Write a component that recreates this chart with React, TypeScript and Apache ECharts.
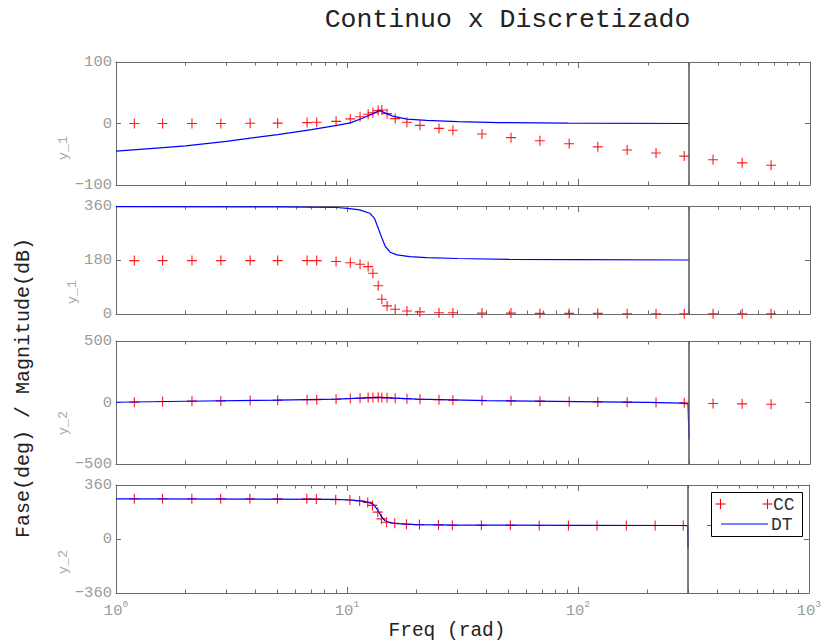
import React, { useEffect, useRef } from 'react';
import * as echarts from 'echarts';

// ---- data ----
const ccFreq = [1.2, 1.59, 2.13, 2.84, 3.8, 5.0, 6.7, 7.37, 8.94, 10.3, 11.35, 12.3, 12.9, 13.6, 14.1, 14.85, 16.1, 18.1, 20.6, 24.9, 28.6, 38.2, 51, 68, 91, 121, 162, 216, 286, 381, 509, 679];
const ccMag1 = [0, 0, 0, 0, 0.3, 0.6, 1.5, 2, 3.5, 7.5, 11, 15, 17.5, 21, 22, 16, 8, 2, -3, -8, -11, -17, -23, -28, -33, -38, -43, -48, -53, -59, -64, -68];
const ccPh1 = [178, 178, 178, 178, 178, 178, 178, 178, 175, 171, 166, 158, 136, 94, 49, 27, 16, 10, 7, 4, 4, 3, 3, 2, 2, 2, 1, 1, 1, 1, 1, 1];
const ccMag2 = [3, 8, 11, 13, 16, 19, 22, 22, 27, 32, 35, 40, 40, 42, 41, 38, 34, 30, 27, 22, 19, 16, 13.5, 11, 8, 5, 3, 0, -3, -8, -11, -14];
const ccPh2 = [268, 268, 268, 268, 268, 268, 268, 267, 262, 260, 253, 244, 224, 179, 134, 112, 105, 98, 96, 94, 92, 91, 91, 90, 90, 90, 90, 90, 90, 90, 90, 90];

const dtFreq1 = [1, 1.5, 2, 3, 5, 7, 9, 10.3, 11.7, 12.9, 13.8, 14.8, 15.7, 18.1, 22, 30, 45, 90, 300];
const dtMag1 = [-45, -40, -36.5, -29, -18, -10, -3, 1, 9, 16, 21, 16, 12, 7, 5, 3, 1.5, 0.5, 0];
const dtFreq2 = [1, 5, 9, 10, 11.3, 12.5, 13.1, 13.6, 14.1, 14.6, 15.3, 16.4, 18.6, 22, 30, 50, 100, 300];
const dtPh1 = [358, 357, 355, 352, 347, 336, 319, 286, 253, 225, 206, 197, 191, 188, 185, 182, 181, 180];
const dtFreq3 = [1, 2, 5, 9, 12, 13.6, 16, 20, 40, 100, 200, 280, 297, 300];
const dtMag2 = [2, 10, 19, 27, 38, 42, 35, 28, 16, 7, 1, -5, -12, -300];
const dtFreq4 = [1, 9, 10.3, 11.5, 12.3, 13, 13.6, 14.1, 14.6, 15.3, 16.5, 20, 30, 100, 290, 299, 300];
const dtPh2 = [268, 264, 260, 254, 246, 232, 192, 150, 122, 110, 103, 96, 93, 91, 90, 88, -60];

const nyquistFreq = 300;
const xMajorTicks = [1, 10, 100, 1000];
const xMinorTicks = [2, 3, 4, 5, 6, 7, 8, 9, 20, 30, 40, 50, 60, 70, 80, 90, 200, 300, 400, 500, 600, 700, 800, 900];
const yRanges = [
  { min: -100, max: 100, interval: 100 },
  { min: 0, max: 360, interval: 180 },
  { min: -500, max: 500, interval: 500 },
  { min: -360, max: 360, interval: 360 },
];
const subplotNames = ['y_1', 'y_1', 'y_2', 'y_2'];
const titleText = 'Continuo x Discretizado';
const xLabelText = 'Freq (rad)';
const yLabelText = 'Fase(deg) / Magnitude(dB)';
const ccName = 'CC';
const dtName = 'DT';

// ---- style ----
const FONT = '"Liberation Mono", "DejaVu Sans Mono", monospace';
const AX = '#6b6b6b';
const TICKLBL = '#9b9b9b';
const RED = '#ff0000';
const BLUE = '#0000ff';
const PLUS = 'path://M5 0 L5 10 M0 5 L10 5';

const gridBoxes = [
  { top: 62, height: 123 },
  { top: 206, height: 108 },
  { top: 341, height: 123 },
  { top: 485, height: 108 },
];
const labelPos = [
  { x: 63, y: 148 },
  { x: 72, y: 292 },
  { x: 63, y: 423 },
  { x: 63, y: 562 },
];

function makeX(gi: number, position: string, ticks: number[], len: number, line: boolean, label: boolean) {
  return {
    type: 'log',
    logBase: 10,
    gridIndex: gi,
    position,
    min: 1,
    max: 1000,
    axisLine: { show: line, onZero: false, lineStyle: { color: AX, width: 1 } },
    axisTick: { show: true, inside: true, length: len, customValues: ticks, lineStyle: { color: AX, width: 1 } },
    axisLabel: {
      show: label,
      customValues: xMajorTicks,
      margin: 6,
      formatter: (v: number) => `{b|10}{s|${Math.round(Math.log10(v))}}`,
      rich: {
        b: { fontSize: 15.5, fontFamily: FONT, color: TICKLBL, lineHeight: 24 },
        s: { fontSize: 9.5, fontFamily: FONT, color: TICKLBL, lineHeight: 9, verticalAlign: 'top' },
      },
    },
    splitLine: { show: false },
    minorTick: { show: false },
  };
}

function makeY(gi: number, position: string, label: boolean) {
  const r = yRanges[gi];
  return {
    type: 'value',
    gridIndex: gi,
    position,
    min: r.min,
    max: r.max,
    interval: r.interval,
    axisLine: { show: true, onZero: false, lineStyle: { color: AX, width: 1 } },
    axisTick: { show: true, inside: true, length: 5, lineStyle: { color: AX, width: 1 } },
    axisLabel: {
      show: label,
      margin: 4,
      color: TICKLBL,
      fontSize: 15.5,
      fontFamily: FONT,
      formatter: (v: number) => String(v).replace('-', '\u2212'),
    },
    splitLine: { show: false },
  };
}

const ccSets = [ccMag1, ccPh1, ccMag2, ccPh2];
const dtSets = [
  [dtFreq1, dtMag1],
  [dtFreq2, dtPh1],
  [dtFreq3, dtMag2],
  [dtFreq4, dtPh2],
];

export default function App() {
  const ref = useRef<HTMLDivElement>(null);
  useEffect(() => {
    if (!ref.current) return;
    const chart = echarts.init(ref.current, null, { renderer: 'svg' });
    const grid = gridBoxes.map((g) => ({ left: 116, right: 14, top: g.top, height: g.height, containLabel: false }));
    const xAxis: any[] = [];
    const yAxis: any[] = [];
    const series: any[] = [];
    for (let i = 0; i < 4; i++) {
      xAxis.push(makeX(i, 'bottom', xMajorTicks, 6, true, i === 3));
      xAxis.push(makeX(i, 'top', xMajorTicks, 6, true, false));
      xAxis.push(makeX(i, 'bottom', xMinorTicks, 3.5, false, false));
      xAxis.push(makeX(i, 'top', xMinorTicks, 3.5, false, false));
      yAxis.push(makeY(i, 'left', true));
      yAxis.push(makeY(i, 'right', false));
      series.push({
        type: 'scatter',
        name: ccName,
        xAxisIndex: 4 * i,
        yAxisIndex: 2 * i,
        symbol: PLUS,
        symbolSize: 10,
        itemStyle: { color: 'none', borderColor: RED, borderWidth: 1.1, opacity: 0.9 },
        data: ccFreq.map((f, k) => [f, ccSets[i][k]]),
      });
      const [fs, vs] = dtSets[i];
      series.push({
        type: 'line',
        name: dtName,
        xAxisIndex: 4 * i,
        yAxisIndex: 2 * i,
        showSymbol: false,
        symbol: 'none',
        lineStyle: { color: BLUE, width: 1.2 },
        data: fs.map((f, k) => [f, vs[k]]),
        markLine: {
          silent: true,
          symbol: ['none', 'none'],
          label: { show: false },
          lineStyle: { color: '#555555', width: 1.5, type: 'solid' },
          data: [{ xAxis: nyquistFreq }],
        },
      });
    }
    const txt = (text: string, x: number, y: number, size: number, color: string, rot = 0, align = 'center') => ({
      type: 'text',
      x,
      y,
      rotation: rot,
      z: 100,
      style: { text, fontSize: size, fontFamily: FONT, fill: color, align, verticalAlign: 'middle' },
    });
    const graphic: any[] = [
      txt(titleText, 507.5, 20, 26.5, '#222222'),
      txt(xLabelText, 447, 631, 19.5, '#222222'),
      txt(yLabelText, 23, 388, 20, '#222222', Math.PI / 2),
      ...subplotNames.map((n, i) => txt(n, labelPos[i].x, labelPos[i].y, 13.5, '#a8a8a8', Math.PI / 2)),
      {
        type: 'rect',
        z: 100,
        shape: { x: 711.5, y: 492.5, width: 91, height: 44 },
        style: { fill: '#ffffff', stroke: '#000000', lineWidth: 1 },
      },
      { type: 'line', z: 101, shape: { x1: 720.5, y1: 499, x2: 720.5, y2: 509 }, style: { stroke: RED, lineWidth: 1.1 } },
      { type: 'line', z: 101, shape: { x1: 715.5, y1: 504, x2: 725.5, y2: 504 }, style: { stroke: RED, lineWidth: 1.1 } },
      { type: 'line', z: 101, shape: { x1: 767.5, y1: 499, x2: 767.5, y2: 509 }, style: { stroke: RED, lineWidth: 1.1 } },
      { type: 'line', z: 101, shape: { x1: 762.5, y1: 504, x2: 772.5, y2: 504 }, style: { stroke: RED, lineWidth: 1.1 } },
      { type: 'line', z: 101, shape: { x1: 721, y1: 524, x2: 768, y2: 524 }, style: { stroke: BLUE, lineWidth: 1.2 } },
      txt(ccName, 773, 504.5, 18, '#333333', 0, 'left'),
      txt(dtName, 771, 524.5, 18, '#333333', 0, 'left'),
    ];
    chart.setOption({
      animation: false,
      backgroundColor: '#ffffff',
      grid,
      xAxis,
      yAxis,
      series,
      graphic,
    });
    return () => chart.dispose();
  }, []);
  return <div ref={ref} style={{ position: 'fixed', left: 0, top: 0, width: 824, height: 644 }} />;
}
